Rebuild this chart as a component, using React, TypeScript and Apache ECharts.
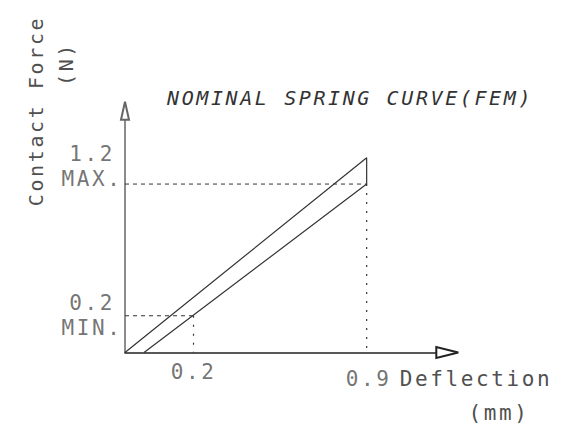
import React, { useEffect, useRef } from "react";
import * as echarts from "echarts";

// ---- data (schematic) ----
const X_MIN = -0.077;
const X_MAX = 1.226;
const Y_MIN = -0.079;
const Y_MAX = 1.757;

const upperCurve: [number, number][] = [
  [-0.077, -0.079],
  [0.9, 1.4],
];
const lowerCurve: [number, number][] = [
  [0.0, -0.079],
  [0.9, 1.2],
];

const xTickValues = [0.2, 0.9];
const xTickLabels = ["0.2", "0.9"];
const yTickValues = [0.2, 1.2];
const yTickLabels = ["0.2", "1.2"];
const yTickNames = ["MIN.", "MAX."];

const titleText = "NOMINAL SPRING CURVE(FEM)";
const xNameLines = ["Deflection", "(mm)"];
const yNameLines = ["Contact Force", "(N)"];

// ---- styling ----
const FONT = '"DejaVu Sans Mono", monospace';
const INK = "#333";
const TEXT = "#505050";
const LABEL_SIZE = 21;

const yLabelOffsets: [number, number][] = [
  [-33, 0],
  [-33, -18],
];
const xLabelOffsets: [number, number][] = [
  [0, 19.5],
  [2, 26.5],
];

function buildOption() {
  const outline = [...upperCurve, ...lowerCurve.slice().reverse()];

  const guideSeries: any[] = [];
  xTickValues.forEach((xv, i) => {
    const yv = yTickValues[i];
    guideSeries.push({
      type: "line",
      data: [
        [X_MIN, yv],
        [xv, yv],
      ],
      symbol: "none",
      silent: true,
      clip: false,
      lineStyle: { color: INK, width: 1, type: [4, 4] },
    });
    guideSeries.push({
      type: "line",
      data: [
        [xv, yv],
        [xv, Y_MIN],
      ],
      symbol: "none",
      silent: true,
      clip: false,
      lineStyle: { color: INK, width: 1.2, type: [2, 7] },
    });
  });

  const yLabelData = yTickValues.map((v, i) => ({
    value: [X_MIN, v],
    label: {
      formatter: `${yTickLabels[i]}\n${yTickNames[i]}`,
      offset: yLabelOffsets[i],
    },
  }));
  const xLabelData = xTickValues.map((v, i) => ({
    value: [v, Y_MIN],
    label: { formatter: xTickLabels[i], offset: xLabelOffsets[i] },
  }));

  const labelCommon = {
    show: true,
    position: "inside",
    align: "center",
    verticalAlign: "middle",
    color: TEXT,
    fontFamily: FONT,
    fontSize: LABEL_SIZE,
    lineHeight: 25,
  };

  const textStyle = (text: string, size: number, extra: any = {}) => ({
    text,
    fill: TEXT,
    fontFamily: FONT,
    fontSize: size,
    align: "center",
    verticalAlign: "middle",
    ...extra,
  });

  return {
    animation: false,
    backgroundColor: "#fff",
    grid: { left: 125, right: 125.7, top: 110.7, bottom: 75.5 },
    xAxis: {
      type: "value",
      min: X_MIN,
      max: X_MAX,
      axisLine: {
        show: true,
        onZero: false,
        symbol: ["none", "emptyTriangle"],
        symbolSize: [11, 22],
        lineStyle: { color: "#222", width: 1.5 },
      },
      axisTick: { show: false },
      axisLabel: { show: false },
      splitLine: { show: false },
    },
    yAxis: {
      type: "value",
      min: Y_MIN,
      max: Y_MAX,
      axisLine: {
        show: true,
        onZero: false,
        symbol: ["none", "emptyTriangle"],
        symbolSize: [8, 18],
        lineStyle: { color: "#666", width: 1.5 },
      },
      axisTick: { show: false },
      axisLabel: { show: false },
      splitLine: { show: false },
    },
    series: [
      {
        type: "line",
        name: "spring curve",
        data: outline,
        symbol: "none",
        silent: true,
        clip: false,
        lineStyle: { color: INK, width: 1.2 },
      },
      ...guideSeries,
      {
        type: "scatter",
        data: yLabelData,
        symbolSize: 1,
        clip: false,
        silent: true,
        itemStyle: { color: "rgba(0,0,0,0)" },
        label: labelCommon,
      },
      {
        type: "scatter",
        data: xLabelData,
        symbolSize: 1,
        clip: false,
        silent: true,
        itemStyle: { color: "rgba(0,0,0,0)" },
        label: labelCommon,
      },
    ],
    graphic: [
      {
        type: "text",
        x: 167,
        y: 98,
        silent: true,
        style: textStyle(titleText, 20, {
          fill: INK,
          fontStyle: "italic",
          align: "left",
        }),
      },
      {
        type: "text",
        x: 476,
        y: 379,
        silent: true,
        style: textStyle(xNameLines[0], LABEL_SIZE),
      },
      {
        type: "text",
        x: 499,
        y: 413,
        silent: true,
        style: textStyle(xNameLines[1], LABEL_SIZE),
      },
      {
        type: "text",
        x: 36,
        y: 111,
        rotation: Math.PI / 2,
        silent: true,
        style: textStyle(yNameLines[0], LABEL_SIZE - 1),
      },
      {
        type: "text",
        x: 66,
        y: 64,
        rotation: Math.PI / 2,
        silent: true,
        style: textStyle(yNameLines[1], LABEL_SIZE - 1),
      },
    ],
  };
}

export default function App() {
  const ref = useRef<HTMLDivElement>(null);
  useEffect(() => {
    if (!ref.current) return;
    const chart = echarts.init(ref.current, null, { renderer: "svg" });
    chart.setOption(buildOption() as any);
    return () => chart.dispose();
  }, []);
  return (
    <>
      <style>{`.spring-chart text{letter-spacing:2.6px;}`}</style>
      <div
        ref={ref}
        className="spring-chart"
        style={{
          position: "absolute",
          left: 0,
          top: 0,
          width: 573,
          height: 428,
          background: "#fff",
        }}
      />
    </>
  );
}
